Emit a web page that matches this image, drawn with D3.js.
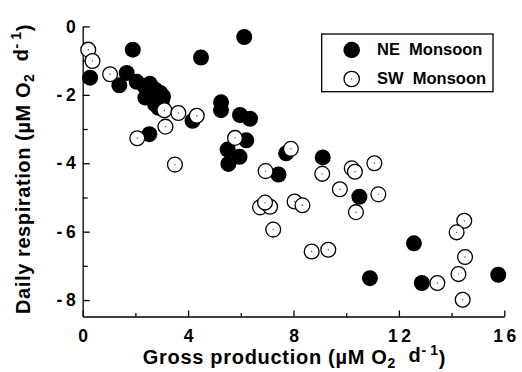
<!DOCTYPE html>
<html>
<head>
<meta charset="utf-8">
<script src="https://cdn.jsdelivr.net/npm/d3@7"></script>
<style>
  html, body { margin: 0; padding: 0; background: #fff; }
  svg { display: block; }
  text { font-family: "Liberation Sans", Arial, Helvetica, sans-serif; font-weight: bold; fill: #000; }
</style>
</head>
<body>
<svg id="chart" width="522" height="372"></svg>
<script>
// Gross production (x, µM O2 d-1) vs daily respiration (y, µM O2 d-1)
const neGross = [0.28, 1.90, 4.49, 6.13, 1.67, 1.39, 2.05, 2.35, 2.55, 2.75, 2.95, 2.38, 2.70, 3.00, 2.88, 2.60, 3.05, 2.75,
                 4.17, 2.53, 5.25, 5.25, 5.97, 6.35, 6.21, 5.50, 5.95, 5.53, 7.72, 9.11, 7.43, 10.50, 12.57, 10.90, 12.87, 15.77];
const neResp  = [-1.50, -0.68, -0.91, -0.31, -1.36, -1.72, -1.62, -1.75, -1.68, -1.85, -1.95, -2.08, -2.12, -2.20, -2.38, -1.90, -2.05, -2.28,
                 -2.76, -3.15, -2.22, -2.45, -2.59, -2.70, -3.33, -3.60, -3.81, -4.02, -3.71, -3.83, -4.33, -4.98, -6.34, -7.36, -7.50, -7.26];

const swGross = [0.21, 0.37, 1.04, 3.10, 3.63, 4.33, 3.14, 2.07, 3.50, 5.78, 7.90, 6.94, 9.09, 10.21, 10.33, 11.07, 9.76,
                 11.22, 10.37, 6.73, 7.11, 6.92, 8.04, 8.34, 7.23, 8.69, 9.32, 14.48, 14.19, 14.51, 14.26, 14.42, 13.46];
const swResp  = [-0.68, -1.01, -1.40, -2.45, -2.53, -2.61, -2.93, -3.27, -4.04, -3.26, -3.58, -4.23, -4.31, -4.15, -4.25, -4.00, -4.76,
                 -4.91, -5.43, -5.29, -5.27, -5.15, -5.12, -5.23, -5.94, -6.58, -6.53, -5.68, -6.02, -6.74, -7.24, -7.99, -7.50];

const seriesNames = ["NE  Monsoon", "SW  Monsoon"];

const xTicks = [0, 4, 8, 12, 16];
const xTickLabels = ["0", "4", "8", "1\u20092", "1\u20096"];
const xMinorTicks = [2, 6, 10, 14];
const yTicks = [0, -2, -4, -6, -8];
const yTickLabels = ["0", "-\u20092", "-\u20094", "-\u20096", "-\u20098"];
const yMinorTicks = [-1, -3, -5, -7];

const svg = d3.select("#chart");

const x = d3.scaleLinear().domain([0, 16]).range([82.7, 504.3]);
const y = d3.scaleLinear().domain([-8.48, 0]).range([316.5, 26.4]);

const R = 8;

// axes: ticks point inward, no frame on top/right
svg.append("g")
  .attr("transform", `translate(0,${y.range()[0]})`)
  .call(d3.axisBottom(x).tickValues(xTicks).tickSizeInner(-6).tickSizeOuter(0).tickPadding(13)
        .tickFormat((d, i) => xTickLabels[i]));
svg.append("g")
  .attr("transform", `translate(0,${y.range()[0]})`)
  .call(d3.axisBottom(x).tickValues(xMinorTicks).tickSizeInner(-3.5).tickSizeOuter(0).tickFormat(""))
  .call(g => g.select(".domain").remove());

svg.append("g")
  .attr("transform", `translate(${x.range()[0]},0)`)
  .call(d3.axisLeft(y).tickValues(yTicks).tickSizeInner(-7).tickSizeOuter(0).tickPadding(7)
        .tickFormat((d, i) => yTickLabels[i]));
svg.append("g")
  .attr("transform", `translate(${x.range()[0]},0)`)
  .call(d3.axisLeft(y).tickValues(yMinorTicks).tickSizeInner(-5).tickSizeOuter(0).tickFormat(""))
  .call(g => g.select(".domain").remove());

svg.selectAll(".domain, .tick line").attr("stroke", "#000").attr("stroke-width", 1.3);
svg.selectAll(".tick text").attr("font-size", 17.5).attr("font-family", null).attr("font-weight", "bold");

// points: NE filled, SW open with a centre dot drawn on top
const neData = neGross.map((g, i) => ({ g, r: neResp[i] }));
const swData = swGross.map((g, i) => ({ g, r: swResp[i] }));

svg.append("g").selectAll("circle").data(neData).join("circle")
  .attr("cx", d => x(d.g)).attr("cy", d => y(d.r)).attr("r", R)
  .attr("fill", "#000");

const sw = svg.append("g").selectAll("g").data(swData).join("g")
  .attr("transform", d => `translate(${x(d.g)},${y(d.r)})`);
sw.append("circle").attr("r", R - 0.6).attr("fill", "#fff").attr("stroke", "#000").attr("stroke-width", 1.3);
sw.append("circle").attr("r", 0.7).attr("fill", "#444");

// legend
const lg = svg.append("g");
lg.append("rect").attr("x", 321.7).attr("y", 34).attr("width", 171.3).attr("height", 57.7)
  .attr("fill", "#fff").attr("stroke", "#000").attr("stroke-width", 1.3);
lg.append("circle").attr("cx", 351.7).attr("cy", 50).attr("r", 8.3).attr("fill", "#000");
lg.append("circle").attr("cx", 351.7).attr("cy", 79).attr("r", 7.7).attr("fill", "#fff").attr("stroke", "#000").attr("stroke-width", 1.3);
lg.append("circle").attr("cx", 351.7).attr("cy", 79).attr("r", 0.7).attr("fill", "#444");
lg.append("text").attr("x", 377).attr("y", 55).attr("font-size", 16.5).attr("xml:space", "preserve").text(seriesNames[0]);
lg.append("text").attr("x", 377).attr("y", 84).attr("font-size", 16.5).attr("xml:space", "preserve").text(seriesNames[1]);

// axis titles with sub/superscripts
function unitTitle(sel, label) {
  sel.append("tspan").text(label + " (\u00b5M O");
  sel.append("tspan").attr("font-size", "0.7em").attr("dy", "0.3em").text("2");
  sel.append("tspan").attr("dy", "-0.3em").attr("xml:space", "preserve").text("  d");
  sel.append("tspan").attr("font-size", "0.7em").attr("dy", "-0.5em").text("-\u20091");
  sel.append("tspan").attr("dy", "0.5em").text(")");
}

const xt = svg.append("text").attr("x", 294.5).attr("y", 364).attr("text-anchor", "middle")
  .attr("font-size", 20).attr("letter-spacing", 0.7);
unitTitle(xt, "Gross production");

const yt = svg.append("text").attr("transform", "translate(30,169) rotate(-90)").attr("text-anchor", "middle")
  .attr("font-size", 20).attr("letter-spacing", 0.6);
unitTitle(yt, "Daily respiration");
</script>
</body>
</html>
